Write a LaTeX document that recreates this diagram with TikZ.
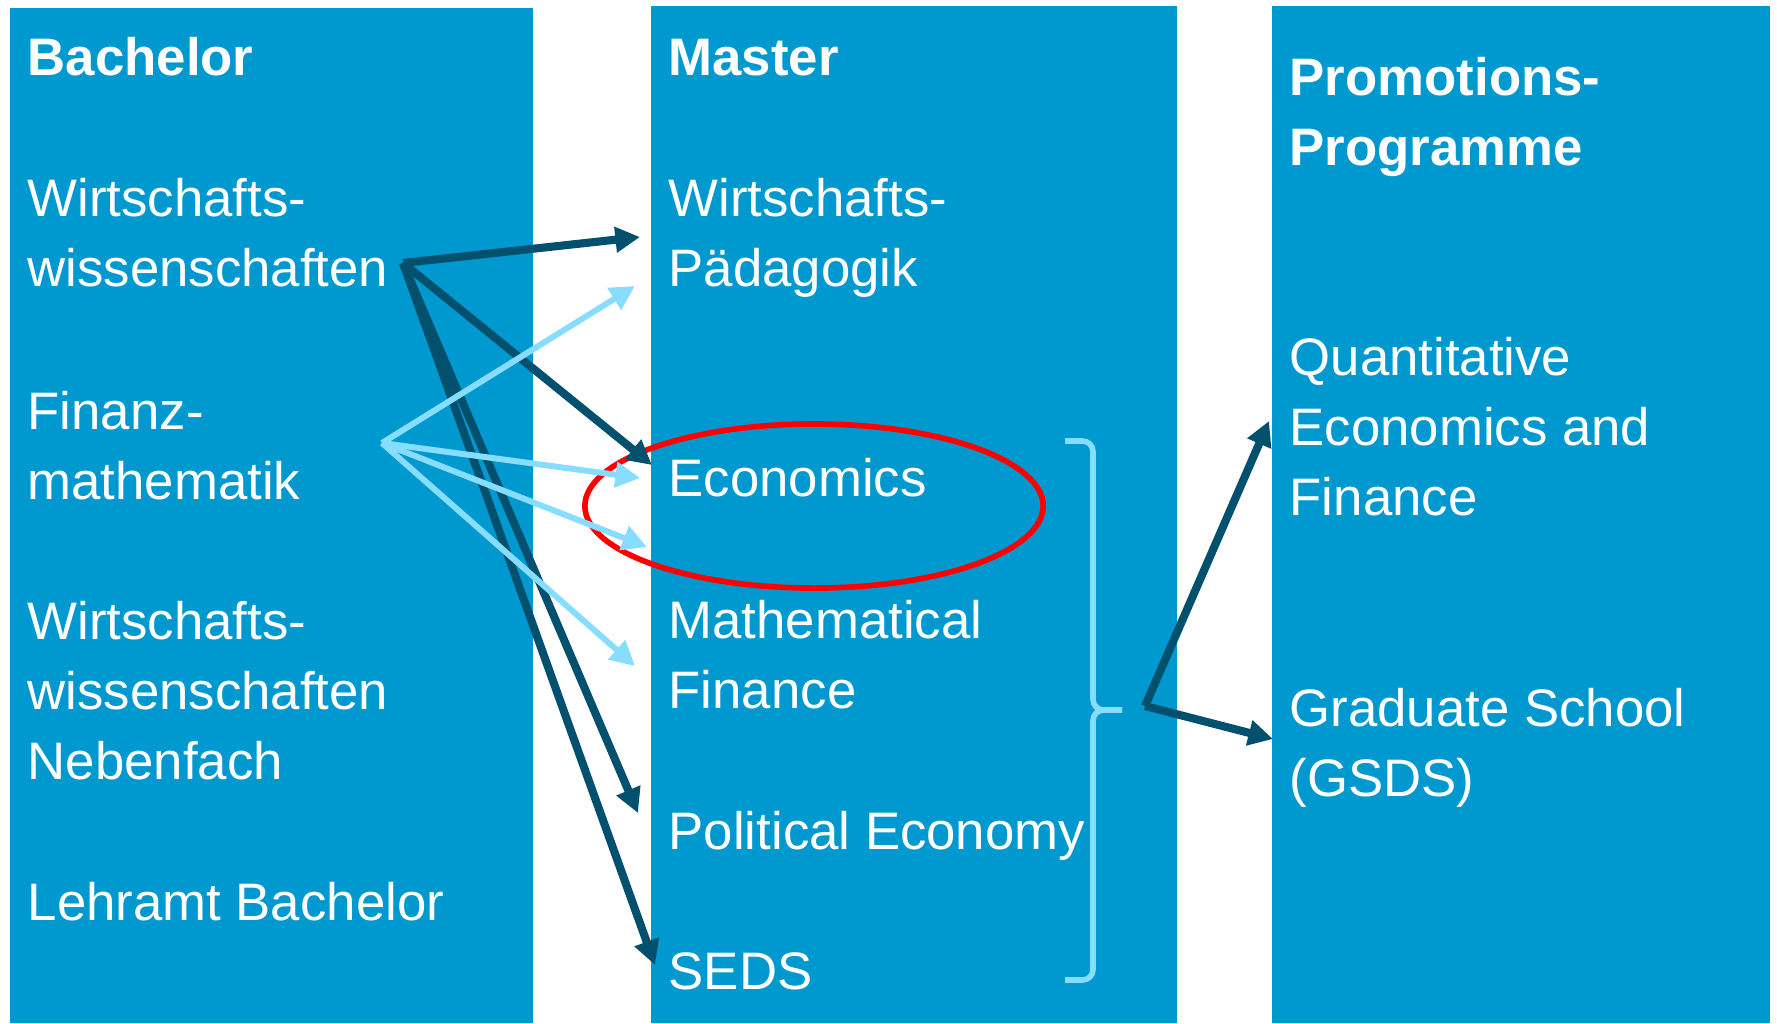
\documentclass[tikz,border=0pt]{standalone}
\usepackage{fontspec}
\setmainfont{Liberation Sans}
\usepackage{tikz}
\usetikzlibrary{arrows.meta}
\definecolor{boxblue}{RGB}{0,153,207}
\definecolor{darkarrow}{RGB}{0,80,110}
\definecolor{lightarrow}{RGB}{135,221,255}

\begin{document}
\begin{tikzpicture}[x=0.01cm,y=-0.01cm,>={Triangle[length=7pt,width=7pt]},
	lbl/.style={anchor=base west,inner sep=0pt,text=white,align=left,font=\fontsize{15pt}{19.9pt}\selectfont},
	hd/.style={lbl,font=\fontsize{15pt}{19.9pt}\selectfont\bfseries},
	dk/.style={->,draw=darkarrow,line width=2.3pt},
	lt/.style={->,draw=lightarrow,line width=1.7pt}]
%	\draw [help lines,step=100] (0,0) grid (1777,1023);
	\useasboundingbox (0,0) rectangle (1777,1023);
	\fill [boxblue] (10,8) rectangle (533,1023);
	\fill [boxblue] (651,6) rectangle (1177,1023);
	\fill [boxblue] (1272,6) rectangle (1770,1023);
	% Bachelor (base = last line)
	\node [hd] (bach) at (27,75) {Bachelor};
	\node [lbl] (wiwi) at (27,286) {Wirtschafts-\\wissenschaften};
	\node [lbl] (finmath) at (27,499) {Finanz-\\mathematik};
	\node [lbl] (wiwineb) at (27,779) {Wirtschafts-\\wissenschaften\\Nebenfach};
	\node [lbl] (lehramt) at (27,920) {Lehramt Bachelor};
	% Master
	\node [hd] (master) at (668,75) {Master};
	\node [lbl] (wipaed) at (668,286) {Wirtschafts-\\Pädagogik};
	\node [lbl] (econ) at (668,496) {Economics};
	\node [lbl] (mathfin) at (668,708) {Mathematical\\Finance};
	\node [lbl] (poleco) at (668,849) {Political Economy};
	\node [lbl] (seds) at (668,989) {SEDS};
	% Promotion
	\node [hd] (promo) at (1289,165) {Promotions-\\Programme};
	\node [lbl] (qef) at (1289,515) {Quantitative\\Economics and\\Finance};
	\node [lbl] (gsds) at (1289,796) {Graduate School\\(GSDS)};
	% highlight
	\draw [red,line width=1.6pt] (814,506) ellipse [x radius=2.29cm, y radius=0.82cm];
	% bracket
	\draw [lightarrow,line width=1.6pt,rounded corners=3pt] (1065,441) -- (1093,441) -- (1093,710) -- (1122,710);
	\draw [lightarrow,line width=1.6pt,rounded corners=3pt] (1122,710) -- (1093,710) -- (1093,980) -- (1065,980);
	% arrows
	\coordinate (wiwiout) at (403,263);
	\coordinate (finout) at (382,443);
	\coordinate (brout) at (1145,706);
	\coordinate (wipaedin) at (640,237);
	\coordinate (econin) at (652,465);
	\coordinate (polecoin) at (638,813);
	\coordinate (sedsin) at (655,965);
	\draw [dk] (wiwiout) -- (wipaedin);
	\draw [dk] (wiwiout) -- (econin);
	\draw [dk] (wiwiout) -- (polecoin);
	\draw [dk] (wiwiout) -- (sedsin);
	\coordinate (wipaedlt) at (635,286);
	\coordinate (econlt) at (640,478);
	\coordinate (econlow) at (647,547);
	\coordinate (mathfinlt) at (635,666);
	\foreach \t in {wipaedlt,econlt,econlow,mathfinlt}
		\draw [lt] (finout) -- (\t);
	\coordinate (qefin) at (1269,421);
	\coordinate (gsdsin) at (1273,739);
	\draw [dk] (brout) -- (qefin);
	\draw [dk] (brout) -- (gsdsin);
\end{tikzpicture}
\end{document}
